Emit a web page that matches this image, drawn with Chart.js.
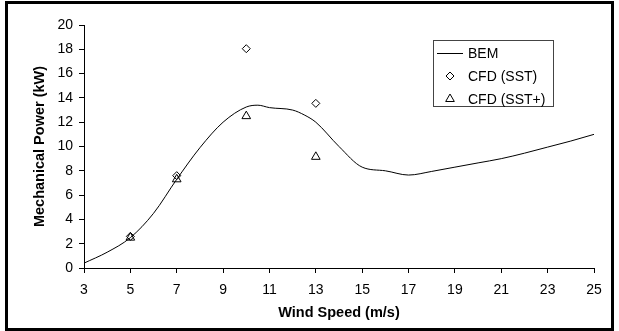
<!DOCTYPE html>
<html>
<head>
<meta charset="utf-8">
<script src="https://cdn.jsdelivr.net/npm/chart.js@4/dist/chart.umd.min.js"></script>
<style>
  html, body { margin: 0; padding: 0; background: #fff; }
  #wrap { position: absolute; left: 0; top: 0; width: 619px; height: 331px; }
  #frame { position: absolute; left: 5px; top: 1px; width: 609px; height: 330px;
           box-sizing: border-box; border: 3px solid #000; pointer-events: none; }
</style>
</head>
<body>
<div id="wrap">
  <canvas id="powerChart"></canvas>
  <div id="frame"></div>
</div>
<script>
// wind speed (m/s) and BEM mechanical power (kW)
var bemSpeed = [3, 4, 5, 6, 7, 8, 9, 10, 10.5, 11, 12, 12.5, 13, 14, 15, 16, 17, 18, 19, 20, 21, 22, 23, 24, 25];
var bemPower = [0.4, 1.3, 2.5, 4.5, 7.3, 9.9, 12.0, 13.25, 13.4, 13.2, 13.0, 12.6, 12.0, 10.0, 8.3, 8.0, 7.65, 7.95, 8.3, 8.65, 9.0, 9.45, 9.95, 10.45, 11.0];

// CFD results
var cfdSpeed = [5, 7, 10, 13];
var sstPower = [2.6, 7.6, 18.05, 13.55];
var sstPlusPower = [2.5, 7.3, 12.5, 9.15];

var seriesLabels = ['BEM', 'CFD (SST)', 'CFD (SST+)'];

var FONT = "'Liberation Sans', Arial, sans-serif";

function toPoints(xs, ys) {
    var pts = [];
    xs.forEach(function(x, i) {
        pts.push({ x: x, y: ys[i] });
    });
    return pts;
}

// legend drawn as a boxed panel inside the plot, like the original
var boxLegend = {
    id: 'boxLegend',
    afterDraw: function(chart) {
        var ctx = chart.ctx;
        var area = chart.chartArea;
        var bx = area.right - 161, by = area.top + 15, bw = 120, bh = 66;
        ctx.save();
        ctx.strokeStyle = '#444';
        ctx.lineWidth = 1;
        ctx.strokeRect(bx + 0.5, by + 0.5, bw, bh);
        ctx.font = '14px ' + FONT;
        ctx.fillStyle = '#000';
        ctx.textBaseline = 'middle';
        chart.data.datasets.forEach(function(ds, i) {
            var cy = by + 13 + i * 23;
            if (ds.showLine) {
                ctx.beginPath();
                ctx.strokeStyle = '#000';
                ctx.moveTo(bx + 4, cy + 0.5);
                ctx.lineTo(bx + 30, cy + 0.5);
                ctx.stroke();
            } else {
                ctx.strokeStyle = '#000';
                ctx.fillStyle = 'rgba(0,0,0,0)';
                ctx.lineWidth = 1;
                Chart.helpers.drawPoint(ctx, {
                    pointStyle: ds.pointStyle,
                    radius: ds.pointRadius,
                    borderWidth: 1,
                    rotation: 0
                }, bx + 17, cy);
                ctx.fillStyle = '#000';
            }
            ctx.fillText(ds.label, bx + 35, cy + 1);
        });
        ctx.restore();
    }
};

var ctx = document.getElementById('powerChart').getContext('2d');
new Chart(ctx, {
    type: 'scatter',
    data: {
        datasets: [{
            label: seriesLabels[0],
            data: toPoints(bemSpeed, bemPower),
            showLine: true,
            borderColor: '#000',
            borderWidth: 1,
            pointRadius: 0,
            cubicInterpolationMode: 'monotone'
        }, {
            label: seriesLabels[1],
            data: toPoints(cfdSpeed, sstPower),
            showLine: false,
            pointStyle: 'rectRot',
            pointRadius: 4,
            borderColor: '#000',
            borderWidth: 1,
            backgroundColor: 'rgba(0,0,0,0)'
        }, {
            label: seriesLabels[2],
            data: toPoints(cfdSpeed, sstPlusPower),
            showLine: false,
            pointStyle: 'triangle',
            pointRadius: 5,
            borderColor: '#000',
            borderWidth: 1,
            backgroundColor: 'rgba(0,0,0,0)'
        }]
    },
    options: {
        responsive: true,
        maintainAspectRatio: false,
        animation: false,
        layout: { padding: { left: 28, right: 25, top: 25, bottom: 0 } },
        plugins: {
            legend: { display: false },
            tooltip: { enabled: false }
        },
        scales: {
            x: {
                type: 'linear',
                min: 3,
                max: 25,
                afterFit: function(scale) { scale.height = 63; },
                ticks: {
                    stepSize: 2,
                    color: '#000',
                    padding: 9,
                    maxRotation: 0,
                    font: { family: FONT, size: 14 }
                },
                grid: { drawOnChartArea: false, drawTicks: true, tickLength: 5, color: '#000' },
                border: { display: true, color: '#000', width: 1 },
                title: {
                    display: true,
                    text: 'Wind Speed (m/s)',
                    color: '#000',
                    padding: { top: 4, bottom: 9 },
                    font: { family: FONT, size: 14.5, weight: 'bold' }
                }
            },
            y: {
                min: 0,
                max: 20,
                afterFit: function(scale) { scale.width = 56; },
                ticks: {
                    stepSize: 2,
                    color: '#000',
                    padding: 6,
                    font: { family: FONT, size: 14 }
                },
                grid: { drawOnChartArea: false, drawTicks: true, tickLength: 5, color: '#000' },
                border: { display: true, color: '#000', width: 1 },
                title: {
                    display: true,
                    text: 'Mechanical Power (kW)',
                    color: '#000',
                    padding: { top: 3, bottom: 0 },
                    font: { family: FONT, size: 14.5, weight: 'bold' }
                }
            }
        }
    },
    plugins: [boxLegend]
});
</script>
</body>
</html>
